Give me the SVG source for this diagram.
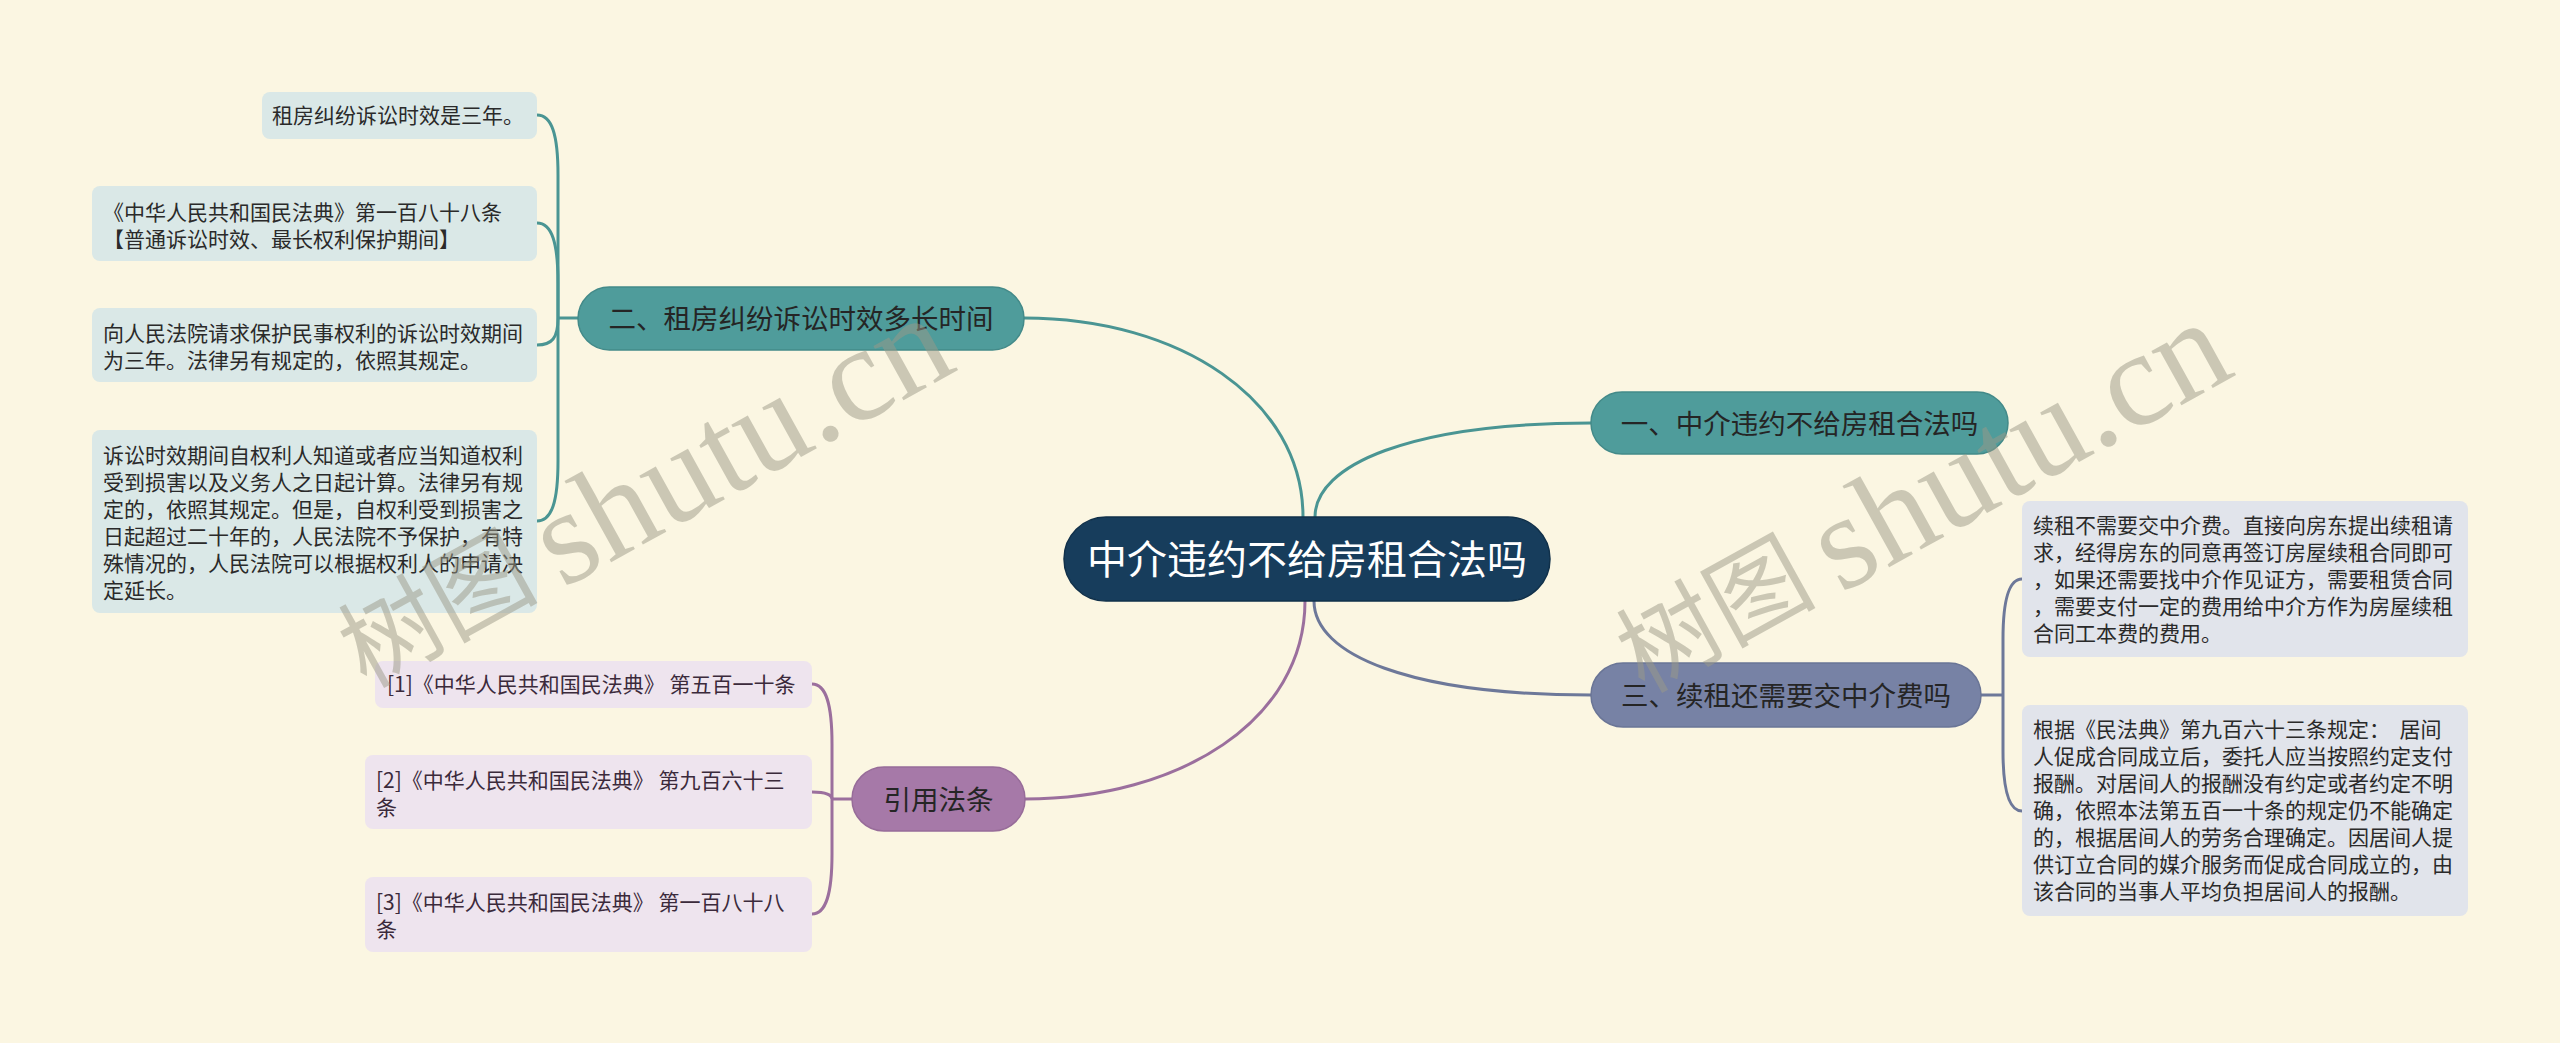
<svg xmlns="http://www.w3.org/2000/svg" width="2560" height="1043" viewBox="0 0 2560 1043">
<style>
text{font-family:"Noto Sans CJK SC","Noto Sans",sans-serif;}
.leaf{font-size:21px;fill:#2a2a2a;}
.pleaf{font-size:21px;fill:#3b2a3b;}
.br{font-size:27.5px;fill:#252525;text-anchor:middle;}
.root{font-size:40px;fill:#ffffff;text-anchor:middle;}
.tl{fill:none;stroke:#4A9593;stroke-width:3;}
.bl{fill:none;stroke:#6D7899;stroke-width:3;}
.pl{fill:none;stroke:#9B6F9D;stroke-width:3;}
.tleafbox{fill:#DAE8E7;}
.bleafbox{fill:#E1E4EB;}
.pleafbox{fill:#EEE4EE;}
.wm{font-family:"Liberation Serif","Noto Sans CJK SC",serif;fill:#9c9a88;opacity:0.5;}
</style>
<rect width="2560" height="1043" fill="#FBF6E2"/>

<g id="connectors">
  <path class="tl" d="M1303,517 C1303,400 1180,318 1024,318"/>
  <path class="tl" d="M1315,517 C1315,465 1410,423 1591,423"/>
  <path class="bl" d="M1314,601 C1314,655 1410,695 1591,695"/>
  <path class="pl" d="M1305,601 C1305,720 1180,799 1025,799"/>

  <path class="tl" d="M578,318 H558"/>
  <path class="tl" d="M558,318 V175 C558,135 552,115 537,115"/>
  <path class="tl" d="M558,318 V283 C558,243 552,223 537,223"/>
  <path class="tl" d="M558,318 C558,338 552,345 537,345"/>
  <path class="tl" d="M558,318 V461 C558,501 552,521 537,521"/>

  <path class="bl" d="M1981,695 H2003"/>
  <path class="bl" d="M2003,695 V639 C2003,599 2009,579 2022,579"/>
  <path class="bl" d="M2003,695 V751 C2003,791 2009,811 2022,811"/>

  <path class="pl" d="M852,799 H832"/>
  <path class="pl" d="M832,799 V744 C832,704 826,684 812,684"/>
  <path class="pl" d="M832,799 C832,795 826,792 812,792"/>
  <path class="pl" d="M832,799 V854 C832,894 826,914 812,914"/>
</g>

<g id="root">
  <rect x="1064" y="517" width="486" height="84" rx="42" fill="#173D5C" stroke="#10304A" stroke-width="1.5"/>
  <text class="root" x="1307" y="574">中介违约不给房租合法吗</text>
</g>

<g id="branch-1">
  <rect x="1591" y="392" width="417" height="62" rx="31" fill="#4F9C9B" stroke="#438A89" stroke-width="1.5"/>
  <text class="br" x="1799.5" y="433.5">一、中介违约不给房租合法吗</text>
</g>

<g id="branch-2">
  <rect x="578" y="287" width="446" height="63" rx="31.5" fill="#4F9C9B" stroke="#438A89" stroke-width="1.5"/>
  <text class="br" x="801" y="329">二、租房纠纷诉讼时效多长时间</text>
</g>

<g id="branch-3">
  <rect x="1591" y="663" width="390" height="64" rx="32" fill="#7782A5" stroke="#6A7596" stroke-width="1.5"/>
  <text class="br" x="1786" y="705.5">三、续租还需要交中介费吗</text>
</g>

<g id="branch-4">
  <rect x="852" y="767" width="173" height="64" rx="32" fill="#A679A8" stroke="#976C99" stroke-width="1.5"/>
  <text class="br" x="938.5" y="809.5">引用法条</text>
</g>

<g id="leaf-2-1">
  <rect class="tleafbox" x="262" y="92" width="275" height="47" rx="8"/>
  <text class="leaf" x="272" y="123">租房纠纷诉讼时效是三年。</text>
</g>
<g id="leaf-2-2">
  <rect class="tleafbox" x="92" y="186" width="445" height="75" rx="8"/>
  <text class="leaf" x="103" y="220">《中华人民共和国民法典》第一百八十八条</text>
  <text class="leaf" x="103" y="247">【普通诉讼时效、最长权利保护期间】</text>
</g>
<g id="leaf-2-3">
  <rect class="tleafbox" x="92" y="308" width="445" height="74" rx="8"/>
  <text class="leaf" x="103" y="341">向人民法院请求保护民事权利的诉讼时效期间</text>
  <text class="leaf" x="103" y="368">为三年。法律另有规定的，依照其规定。</text>
</g>
<g id="leaf-2-4">
  <rect class="tleafbox" x="92" y="430" width="445" height="183" rx="8"/>
  <text class="leaf" x="103" y="463">诉讼时效期间自权利人知道或者应当知道权利</text>
  <text class="leaf" x="103" y="490">受到损害以及义务人之日起计算。法律另有规</text>
  <text class="leaf" x="103" y="517">定的，依照其规定。但是，自权利受到损害之</text>
  <text class="leaf" x="103" y="544">日起超过二十年的，人民法院不予保护，有特</text>
  <text class="leaf" x="103" y="571">殊情况的，人民法院可以根据权利人的申请决</text>
  <text class="leaf" x="103" y="598">定延长。</text>
</g>

<g id="leaf-3-1">
  <rect class="bleafbox" x="2022" y="501" width="446" height="156" rx="8"/>
  <text class="leaf" x="2033" y="533">续租不需要交中介费。直接向房东提出续租请</text>
  <text class="leaf" x="2033" y="560">求，经得房东的同意再签订房屋续租合同即可</text>
  <text class="leaf" x="2033" y="587">，如果还需要找中介作见证方，需要租赁合同</text>
  <text class="leaf" x="2033" y="614">，需要支付一定的费用给中介方作为房屋续租</text>
  <text class="leaf" x="2033" y="641">合同工本费的费用。</text>
</g>
<g id="leaf-3-2">
  <rect class="bleafbox" x="2022" y="705" width="446" height="211" rx="8"/>
  <text class="leaf" x="2033" y="737" xml:space="preserve">根据《民法典》第九百六十三条规定：  居间</text>
  <text class="leaf" x="2033" y="764">人促成合同成立后，委托人应当按照约定支付</text>
  <text class="leaf" x="2033" y="791">报酬。对居间人的报酬没有约定或者约定不明</text>
  <text class="leaf" x="2033" y="818">确，依照本法第五百一十条的规定仍不能确定</text>
  <text class="leaf" x="2033" y="845">的，根据居间人的劳务合理确定。因居间人提</text>
  <text class="leaf" x="2033" y="872">供订立合同的媒介服务而促成合同成立的，由</text>
  <text class="leaf" x="2033" y="899">该合同的当事人平均负担居间人的报酬。</text>
</g>

<g id="leaf-4-1">
  <rect class="pleafbox" x="375" y="661" width="437" height="47" rx="8"/>
  <text class="pleaf" x="387" y="692">[1]《中华人民共和国民法典》 第五百一十条</text>
</g>
<g id="leaf-4-2">
  <rect class="pleafbox" x="365" y="755" width="447" height="74" rx="8"/>
  <text class="pleaf" x="376" y="788">[2]《中华人民共和国民法典》 第九百六十三</text>
  <text class="pleaf" x="376" y="815">条</text>
</g>
<g id="leaf-4-3">
  <rect class="pleafbox" x="365" y="877" width="447" height="75" rx="8"/>
  <text class="pleaf" x="376" y="910">[3]《中华人民共和国民法典》 第一百八十八</text>
  <text class="pleaf" x="376" y="937">条</text>
</g>

<g id="watermarks">
  <g transform="rotate(-29)">
    <text class="wm"><tspan x="-14" y="780" font-size="100">树图</tspan><tspan x="173" y="788" font-size="135"> shutu.cn</tspan></text>
  </g>
  <g transform="translate(1278,5) rotate(-29)">
    <text class="wm"><tspan x="-14" y="780" font-size="100">树图</tspan><tspan x="173" y="788" font-size="135"> shutu.cn</tspan></text>
  </g>
</g>
</svg>
